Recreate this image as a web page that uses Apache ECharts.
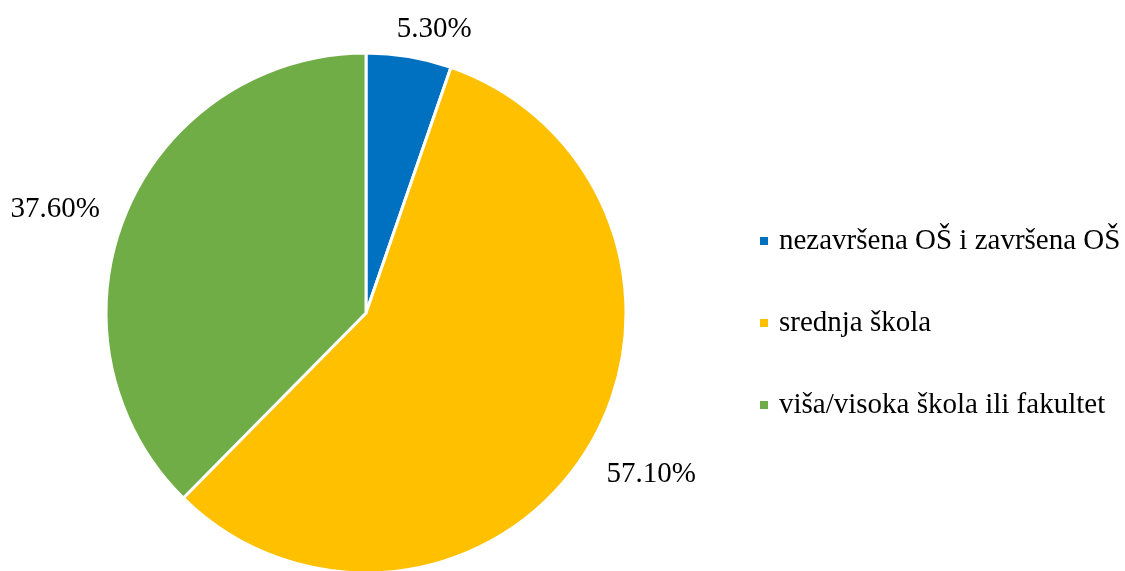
<!DOCTYPE html>
<html>
<head>
<meta charset="utf-8">
<script src="https://cdn.jsdelivr.net/npm/echarts@6/dist/echarts.min.js"></script>
<style>html,body{margin:0;padding:0;background:#fff;}#c{width:1125px;height:571px;}</style>
</head>
<body>
<div id="c"></div>
<script>
const categories = ['nezavršena OŠ i završena OŠ', 'srednja škola', 'viša/visoka škola ili fakultet'];
const values = [5.3, 57.1, 37.6];
const colors = ['#0070C0', '#FFC000', '#70AD47'];

// small layout nudges for the value labels (Excel "best fit" placement)
const labelNudge = [[19, 9], [12, -8], [-12, 19]];

const chart = echarts.init(document.getElementById('c'));
const font = "'Liberation Serif', 'Times New Roman', serif";
chart.setOption({
  animation: false,
  color: colors,
  legend: {
    orient: 'vertical',
    left: 758,
    top: 226,
    padding: 0,
    itemWidth: 10,
    itemHeight: 10,
    itemGap: 52,
    icon: 'rect',
    data: categories,
    textStyle: { fontFamily: font, fontSize: 29, color: '#000', lineHeight: 30, padding: [0, 0, 0, 5] }
  },
  series: [{
    type: 'pie',
    center: [366, 313],
    radius: 260,
    startAngle: 90,
    clockwise: true,
    data: categories.map((n, i) => ({ name: n, value: values[i] })),
    itemStyle: { borderColor: '#fff', borderWidth: 3 },
    label: {
      show: true,
      position: 'outside',
      formatter: p => p.value.toFixed(2) + '%',
      fontFamily: font,
      fontSize: 29,
      color: '#000'
    },
    labelLine: { show: false, length: 16, length2: 0 },
    labelLayout: function (params) {
      const pts = params.labelLinePoints;
      if (!pts) return {};
      const p0 = pts[0], p1 = pts[1];
      let dx = p1[0] - p0[0], dy = p1[1] - p0[1];
      const len = Math.sqrt(dx * dx + dy * dy) || 1;
      dx /= len; dy /= len;
      const hw = params.labelRect.width / 2, hh = params.labelRect.height / 2;
      const extra = hw * Math.abs(dx) + hh * Math.abs(dy);
      const n = labelNudge[params.dataIndex] || [0, 0];
      return {
        x: p1[0] + dx * extra + n[0],
        y: p1[1] + dy * extra + n[1],
        align: 'center',
        verticalAlign: 'middle'
      };
    }
  }]
});
</script>
</body>
</html>
